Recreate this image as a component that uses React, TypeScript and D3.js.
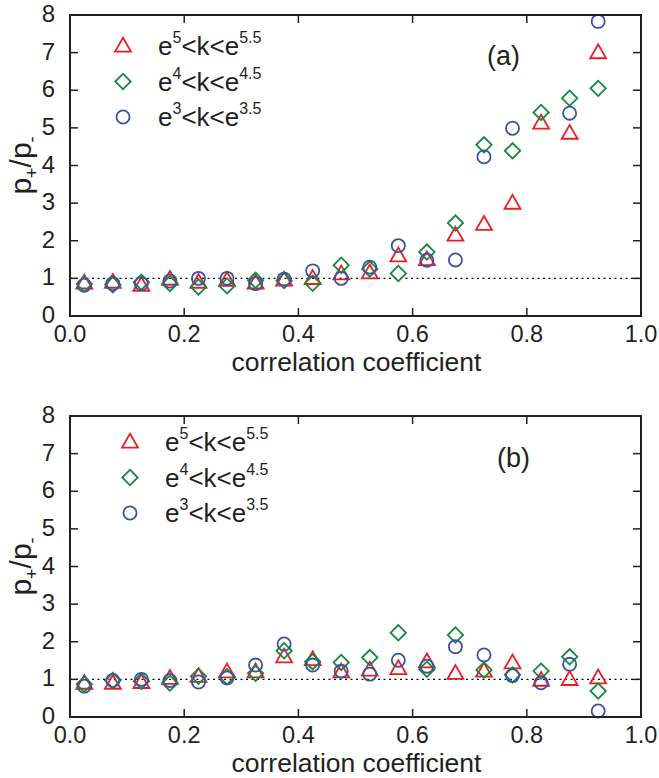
import React from "react";
import * as d3 from "d3";

// correlation-coefficient bin centres
const binCenters = [
  0.025, 0.075, 0.125, 0.175, 0.225, 0.275, 0.325, 0.375, 0.425, 0.475,
  0.525, 0.575, 0.625, 0.675, 0.725, 0.775, 0.825, 0.875, 0.925,
];

// panel (a): p+/p- per degree class
const aHigh = [0.88, 0.9, 0.82, 0.98, 0.9, 0.95, 0.88, 0.96, 1.0, 1.12, 1.15, 1.6, 1.5, 2.15, 2.44, 3.0, 5.13, 4.86, 7.0];
const aMid = [0.85, 0.83, 0.9, 0.86, 0.77, 0.8, 0.95, 0.94, 0.87, 1.35, 1.25, 1.13, 1.7, 2.47, 4.55, 4.39, 5.41, 5.79, 6.05];
const aLow: (number | null)[] = [0.82, 0.86, 0.86, 0.93, 1.0, 1.0, 0.86, 0.98, 1.2, 1.0, 1.3, 1.87, 1.48, 1.49, 4.23, 4.99, null, 5.39, 7.83];

// panel (b)
const bHigh = [0.9, 0.9, 0.92, 1.03, 1.08, 1.2, 1.2, 1.6, 1.53, 1.2, 1.25, 1.29, 1.47, 1.16, 1.22, 1.44, 0.98, 1.0, 1.04];
const bMid = [0.87, 0.97, 0.95, 0.9, 1.08, 1.07, 1.16, 1.76, 1.47, 1.45, 1.58, 2.24, 1.27, 2.18, 1.25, 1.12, 1.22, 1.6, 0.69];
const bLow = [0.82, 0.97, 1.0, 0.97, 0.93, 1.04, 1.38, 1.94, 1.38, 1.22, 1.14, 1.51, 1.35, 1.87, 1.65, 1.1, 0.91, 1.4, 0.16];

const xTicks = [0, 0.2, 0.4, 0.6, 0.8, 1.0];
const yTicks = [0, 1, 2, 3, 4, 5, 6, 7, 8];

const legendItems = [
  { lo: "5", hi: "5.5", kind: "triangle" },
  { lo: "4", hi: "4.5", kind: "diamond" },
  { lo: "3", hi: "3.5", kind: "circle" },
];

const RED = "#ec1c24";
const GREEN = "#138a3c";
const BLUE = "#3b53a4";
const INK = "#231f20";
const FONT = "'Liberation Sans', Arial, Helvetica, sans-serif";

const W = 659;
const H = 778;
const left = 70;
const right = 641;
const plotH = 301;

const symTriangle = d3.symbol().type(d3.symbolTriangle).size(110)();
const symDiamond = d3.symbol().type(d3.symbolSquare).size(118)();
const symCircle = d3.symbol().type(d3.symbolCircle).size(135)();

function Marker({ kind, x, y }: { kind: string; x: number; y: number }) {
  if (kind === "triangle")
    return <path d={symTriangle!} transform={`translate(${x},${y + 1})`} fill="none" stroke={RED} strokeWidth={1.8} />;
  if (kind === "diamond")
    return <path d={symDiamond!} transform={`translate(${x},${y}) rotate(45)`} fill="none" stroke={GREEN} strokeWidth={1.8} />;
  return <path d={symCircle!} transform={`translate(${x},${y})`} fill="none" stroke={BLUE} strokeWidth={1.8} />;
}

function Panel({
  top,
  tag,
  tagX,
  tagY,
  legX,
  legY,
  series,
}: {
  top: number;
  tag: string;
  tagX: number;
  tagY: number;
  legX: number;
  legY: number;
  series: { kind: string; values: (number | null)[] }[];
}) {
  const x = d3.scaleLinear().domain([0, 1]).range([left, right]);
  const y = d3.scaleLinear().domain([0, 8]).range([top + plotH, top]);
  const bottom = top + plotH;
  const tickLen = 8;
  return (
    <g>
      {/* reference level p+/p- = 1 */}
      <line x1={left} x2={right} y1={y(1)} y2={y(1)} stroke="#000" strokeWidth={1.2} strokeDasharray="2,3.5" />
      {series.map((s) =>
        s.values.map((v, i) =>
          v == null ? null : <Marker key={s.kind + i} kind={s.kind} x={x(binCenters[i])} y={y(v)} />
        )
      )}
      {/* ticks on all four sides, pointing inward */}
      {xTicks.map((t) => (
        <g key={"xt" + t}>
          <line x1={x(t)} x2={x(t)} y1={bottom} y2={bottom - tickLen} stroke={INK} strokeWidth={1.5} />
          <line x1={x(t)} x2={x(t)} y1={top} y2={top + tickLen} stroke={INK} strokeWidth={1.5} />
          <text x={x(t)} y={bottom + 26} textAnchor="middle" fontSize={23.5} fill={INK} fontFamily={FONT}>
            {t.toFixed(1)}
          </text>
        </g>
      ))}
      {yTicks.map((t) => (
        <g key={"yt" + t}>
          <line x1={left} x2={left + tickLen} y1={y(t)} y2={y(t)} stroke={INK} strokeWidth={1.5} />
          <line x1={right} x2={right - tickLen} y1={y(t)} y2={y(t)} stroke={INK} strokeWidth={1.5} />
          <text x={left - 15} y={y(t) + 7} textAnchor="end" fontSize={24} fill={INK} fontFamily={FONT}>
            {t}
          </text>
        </g>
      ))}
      <rect x={left} y={top} width={right - left} height={plotH} fill="none" stroke={INK} strokeWidth={2} />
      <text x={(left + right) / 2 + 1} y={bottom + 55} textAnchor="middle" fontSize={26.5} fill={INK} fontFamily={FONT}>
        correlation coefficient
      </text>
      <text
        transform={`translate(31,${top + plotH / 2}) rotate(-90)`}
        textAnchor="middle"
        fontSize={30}
        fill={INK}
        fontFamily={FONT}
      >
        p<tspan fontSize={18} dy={7}>+</tspan>
        <tspan dy={-7}>/p</tspan>
        <tspan fontSize={18} dy={7}>-</tspan>
      </text>
      <text x={tagX} y={tagY} fontSize={27} fill={INK} fontFamily={FONT}>
        {tag}
      </text>
      {legendItems.map((it, i) => (
        <g key={"lg" + i}>
          <Marker kind={it.kind} x={legX} y={legY + i * 35.5} />
          <text x={legX + 35} y={legY + i * 35.5 + 9} fontSize={26} fill={INK} fontFamily={FONT}>
            e<tspan fontSize={16} dy={-12}>{it.lo}</tspan>
            <tspan dy={12}>{"<k<e"}</tspan>
            <tspan fontSize={16} dy={-12}>{it.hi}</tspan>
          </text>
        </g>
      ))}
    </g>
  );
}

export default function App() {
  return (
    <svg
      width={W}
      height={H}
      viewBox={`0 0 ${W} ${H}`}
      style={{ position: "absolute", left: 0, top: 0, background: "#fff" }}
    >
      <rect width={W} height={H} fill="#fff" />
      <Panel
        top={15}
        tag="(a)"
        tagX={487}
        tagY={65}
        legX={123}
        legY={46}
        series={[
          { kind: "triangle", values: aHigh },
          { kind: "diamond", values: aMid },
          { kind: "circle", values: aLow },
        ]}
      />
      <Panel
        top={416}
        tag="(b)"
        tagX={497}
        tagY={467}
        legX={130}
        legY={442}
        series={[
          { kind: "triangle", values: bHigh },
          { kind: "diamond", values: bMid },
          { kind: "circle", values: bLow },
        ]}
      />
    </svg>
  );
}
